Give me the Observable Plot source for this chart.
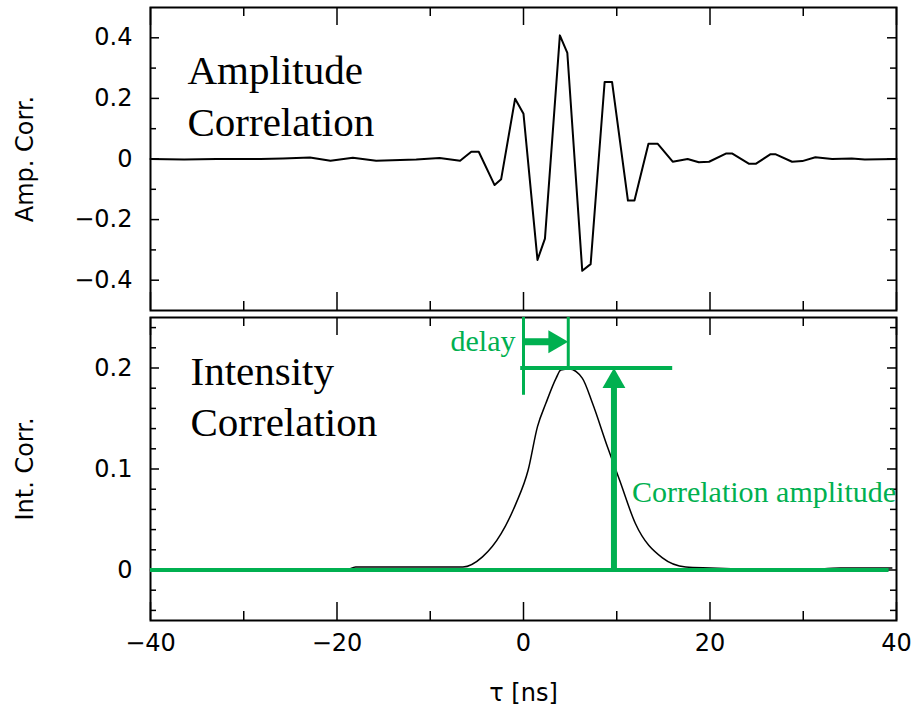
<!DOCTYPE html>
<html>
<head>
<meta charset="utf-8">
<script src="https://cdn.jsdelivr.net/npm/d3@7"></script>
<script src="https://cdn.jsdelivr.net/npm/@observablehq/plot@0.6"></script>
<style>
  body { margin: 0; background: #fff; }
  #wrap { position: relative; width: 914px; height: 708px; }
  #top, #bot { position: absolute; left: 0; }
  #top { top: 0; }
  #bot { top: 312px; }
</style>
</head>
<body>
<div id="wrap"><div id="top"></div><div id="bot"></div></div>
<script>
// ---- data ----
const tauAmp = [-40, -36.4, -32.9, -28.2, -25.8, -22.9, -20.7, -18.3, -15.8, -11.5, -9.0, -6.8, -5.6, -4.8, -3.1, -2.4, -0.9, 0, 1.5, 2.3, 3.9, 4.7, 6.3, 7.2, 8.7, 9.5, 11.2, 11.9, 13.4, 14.4, 16.0, 17.6, 18.8, 19.9, 21.7, 22.4, 24.2, 24.9, 26.5, 27.0, 28.8, 29.9, 31.3, 33.1, 35.2, 36.6, 40];
const ampCorr = [0, -0.002, 0, 0, 0.002, 0.005, -0.006, 0.004, -0.006, -0.002, 0.003, -0.006, 0.024, 0.024, -0.086, -0.067, 0.199, 0.149, -0.333, -0.263, 0.408, 0.35, -0.369, -0.347, 0.254, 0.254, -0.137, -0.137, 0.05, 0.05, -0.009, 0, -0.011, -0.009, 0.018, 0.018, -0.016, -0.016, 0.016, 0.016, -0.009, -0.007, 0.006, 0, 0.002, -0.002, 0];

const tauInt = [-40, -19, -18, -11, -6.5, -4.4, -2.4, -0.8, 0.5, 1.5, 2.4, 3.5, 4.0, 4.9, 6.3, 7.4, 9.0, 10.3, 12.0, 14.9, 17.4, 20, 30, 34, 39.5];
const intCorr = [0, 0, 0.003, 0.003, 0.003, 0.013, 0.036, 0.066, 0.099, 0.142, 0.165, 0.19, 0.198, 0.199, 0.19, 0.165, 0.122, 0.089, 0.046, 0.012, 0.003, 0.002, 0, 0.002, 0.002];

const xTicksMajor = [-40, -20, 0, 20, 40];
const xTicksMinor = [-30, -10, 10, 30];
const ampTicksMajor = [-0.4, -0.2, 0, 0.2, 0.4];
const ampTicksMinor = [-0.3, -0.1, 0.1, 0.3];
const intTicksMajor = [0, 0.1, 0.2];
const intTicksMinor = [-0.04, -0.02, 0.02, 0.04, 0.06, 0.08, 0.12, 0.14, 0.16, 0.18, 0.22, 0.24];

// annotation values
const delayTau = [0, 4.8];        // delay start / end (ns)
const delayArrowLevel = [0.226];  // where the delay arrow sits
const peakLevel = [0.2];          // correlation amplitude
const peakLineTau = [-0.3, 16];   // extent of the peak marker line
const ampArrowTau = [9.7];        // x of correlation amplitude arrow
const baselineTau = [-40, 39.2];

const topTitle = ["Amplitude", "Correlation"];
const botTitle = ["Intensity", "Correlation"];
const green = "#00b050";

const W = 914, ML = 150, MR = 18;
const PW = W - ML - MR;
const fmt = d3.format("~g");

function boxTicks(yMaj, yMin, H) {
  const s = {stroke: "black", strokeWidth: 1.5};
  return [
    Plot.tickX(xTicksMajor, {x: d => d, insetTop: H - 18, ...s}),
    Plot.tickX(xTicksMajor, {x: d => d, insetBottom: H - 18, ...s}),
    Plot.tickX(xTicksMinor, {x: d => d, insetTop: H - 9, ...s}),
    Plot.tickX(xTicksMinor, {x: d => d, insetBottom: H - 9, ...s}),
    Plot.tickY(yMaj, {y: d => d, insetRight: PW - 9, ...s}),
    Plot.tickY(yMaj, {y: d => d, insetLeft: PW - 9, ...s}),
    Plot.tickY(yMin, {y: d => d, insetRight: PW - 6, ...s}),
    Plot.tickY(yMin, {y: d => d, insetLeft: PW - 6, ...s})
  ];
}

const style = {fontFamily: "'DejaVu Sans', sans-serif", fontSize: "24px", background: "transparent", overflow: "visible", color: "black"};

// ---- top panel ----
const topH = 312, topMT = 7, topMB = 2;
const topPlot = Plot.plot({
  width: W, height: topH, marginLeft: ML, marginRight: MR, marginTop: topMT, marginBottom: topMB,
  style,
  x: {domain: [-40, 40], axis: null},
  y: {domain: [-0.5, 0.5]},
  marks: [
    ...boxTicks(ampTicksMajor, ampTicksMinor, topH - topMT - topMB),
    Plot.axisY(ampTicksMajor, {tickSize: 0, tickPadding: 18, fontSize: 24, label: null, tickFormat: fmt}),
    Plot.text(["Amp. Corr."], {frameAnchor: "left", text: d => d, rotate: -90, dx: -125, fontSize: 24, textAnchor: "middle", lineAnchor: "middle"}),
    Plot.line(tauAmp.map((t, i) => ({t, v: ampCorr[i]})), {x: "t", y: "v", stroke: "black", strokeWidth: 2}),
    Plot.frame({stroke: "black", strokeWidth: 2}),
    Plot.text([topTitle[0]], {frameAnchor: "top-left", text: d => d, dx: 37, dy: 76, lineAnchor: "bottom", textAnchor: "start", fontFamily: "'Liberation Serif', serif", fontSize: 41}),
    Plot.text([topTitle[1]], {frameAnchor: "top-left", text: d => d, dx: 37, dy: 128, lineAnchor: "bottom", textAnchor: "start", fontFamily: "'Liberation Serif', serif", fontSize: 41})
  ]
});
document.getElementById("top").appendChild(topPlot);

// ---- bottom panel ----
const botH = 396, botMT = 5, botMB = 88;
const intData = tauInt.map((t, i) => ({t, v: intCorr[i]}));
const botPlot = Plot.plot({
  width: W, height: botH, marginLeft: ML, marginRight: MR, marginTop: botMT, marginBottom: botMB,
  style,
  x: {domain: [-40, 40]},
  y: {domain: [-0.05, 0.25]},
  marks: [
    ...boxTicks(intTicksMajor, intTicksMinor, botH - botMT - botMB),
    Plot.axisY(intTicksMajor, {tickSize: 0, tickPadding: 18, fontSize: 24, label: null, tickFormat: fmt}),
    Plot.axisX(xTicksMajor, {tickSize: 0, tickPadding: 13, fontSize: 24, label: null, tickFormat: fmt}),
    Plot.text(["Int. Corr."], {frameAnchor: "left", text: d => d, rotate: -90, dx: -125, fontSize: 24, textAnchor: "middle", lineAnchor: "middle"}),
    Plot.text(["\u03c4 [ns]"], {frameAnchor: "bottom", text: d => d, dy: 80, fontSize: 24, lineAnchor: "bottom"}),
    Plot.line(intData, {x: "t", y: "v", stroke: "black", strokeWidth: 1.5, curve: "monotone-x"}),
    Plot.frame({stroke: "black", strokeWidth: 2}),
    Plot.text([botTitle[0]], {frameAnchor: "top-left", text: d => d, dx: 40, dy: 67, lineAnchor: "bottom", textAnchor: "start", fontFamily: "'Liberation Serif', serif", fontSize: 41}),
    Plot.text([botTitle[1]], {frameAnchor: "top-left", text: d => d, dx: 40, dy: 118, lineAnchor: "bottom", textAnchor: "start", fontFamily: "'Liberation Serif', serif", fontSize: 41}),
    // green annotations
    Plot.ruleY([0], {x1: baselineTau[0], x2: baselineTau[1], stroke: green, strokeWidth: 4}),
    Plot.ruleY(peakLevel, {x1: peakLineTau[0], x2: peakLineTau[1], stroke: green, strokeWidth: 4}),
    Plot.ruleX([delayTau[0]], {y1: 0.25, y2: 0.173, stroke: green, strokeWidth: 3}),
    Plot.ruleX([delayTau[1]], {y1: 0.25, y2: peakLevel[0], stroke: green, strokeWidth: 3}),
    Plot.ruleY(delayArrowLevel, {x1: delayTau[0], x2: delayTau[1], insetRight: 17, stroke: green, strokeWidth: 7}),
    Plot.dot(delayArrowLevel, {x: delayTau[1], y: d => d, symbol: "triangle", r: 8.5, fill: green, stroke: "none", rotate: 90, dx: -13.3}),
    Plot.ruleX(ampArrowTau, {y1: peakLevel[0], y2: 0, insetTop: 17, stroke: green, strokeWidth: 6}),
    Plot.dot(ampArrowTau, {x: d => d, y: peakLevel[0], symbol: "triangle", r: 8.5, fill: green, stroke: "none", dy: 13.3}),
    Plot.text(["delay"], {x: delayTau[0], y: delayArrowLevel[0], text: d => d, textAnchor: "end", lineAnchor: "middle", dx: -8, fill: green, fontFamily: "'Liberation Serif', serif", fontSize: 30}),
    Plot.text(["Correlation amplitude"], {x: ampArrowTau[0], y: 0.067, text: d => d, textAnchor: "start", lineAnchor: "bottom", dx: 18, fill: green, fontFamily: "'Liberation Serif', serif", fontSize: 30})
  ]
});
document.getElementById("bot").appendChild(botPlot);
</script>
</body>
</html>
